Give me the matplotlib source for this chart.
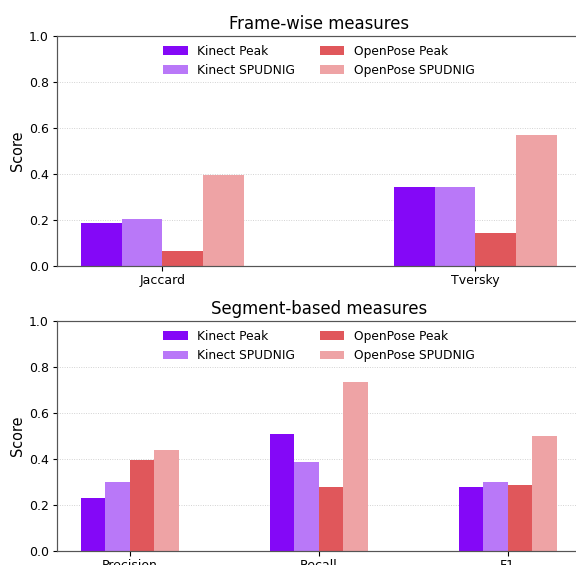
import numpy as np
import matplotlib
matplotlib.use("Agg")
import matplotlib.pyplot as plt

# Data
series = ["Kinect Peak", "Kinect SPUDNIG", "OpenPose Peak", "OpenPose SPUDNIG"]
colors = ["#8408f7", "#b978f8", "#e0575b", "#eea3a5"]

frame_metrics = ["Jaccard", "Tversky"]
frame_kinect_peak = [0.188, 0.342]
frame_kinect_spudnig = [0.204, 0.345]
frame_openpose_peak = [0.067, 0.142]
frame_openpose_spudnig = [0.397, 0.570]

seg_metrics = ["Precision", "Recall", "F1"]
seg_kinect_peak = [0.231, 0.509, 0.279]
seg_kinect_spudnig = [0.301, 0.387, 0.300]
seg_openpose_peak = [0.398, 0.279, 0.289]
seg_openpose_spudnig = [0.439, 0.736, 0.500]

width = 0.13

fig = plt.figure(figsize=(576 / 72, 565 / 72), dpi=72)
ax1 = fig.add_axes([0.099, 0.529, 0.909, 0.407])
ax2 = fig.add_axes([0.099, 0.025, 0.909, 0.406])


def draw(ax, metrics, values, title):
    x = np.arange(len(metrics))
    for i, (name, vals) in enumerate(zip(series, values)):
        ax.bar(x + (i - 1.5) * width, vals, width, label=name, color=colors[i])
    ax.set_xticks(x)
    ax.set_xticklabels(metrics)
    ax.set_ylim(0, 1.0)
    ax.set_ylabel("Score", fontsize=14.5)
    ax.set_title(title, fontsize=16.5, pad=7)
    ax.yaxis.grid(True, linestyle=":", color="#cccccc", linewidth=0.9)
    ax.set_axisbelow(True)
    ax.tick_params(labelsize=12.5, width=1.1, length=4.5)
    for s in ax.spines.values():
        s.set_color("#555555")
        s.set_linewidth(1.2)
    ax.legend(loc="upper center", ncol=2, frameon=False, fontsize=12.2,
              handlelength=2.0, columnspacing=2.0, borderaxespad=0.3)


draw(ax1, frame_metrics,
     [frame_kinect_peak, frame_kinect_spudnig, frame_openpose_peak, frame_openpose_spudnig],
     "Frame-wise measures")
draw(ax2, seg_metrics,
     [seg_kinect_peak, seg_kinect_spudnig, seg_openpose_peak, seg_openpose_spudnig],
     "Segment-based measures")

fig.savefig("out.png", dpi=72)
